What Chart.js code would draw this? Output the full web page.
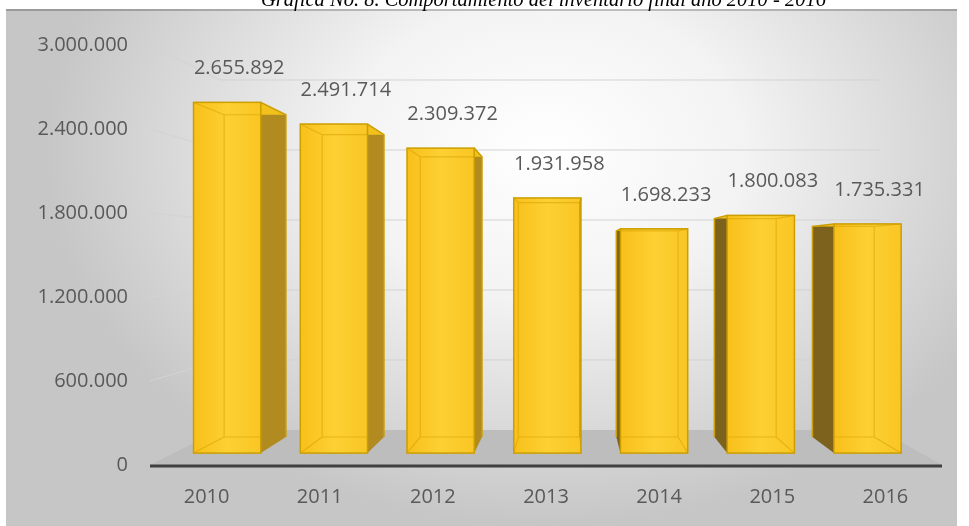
<!DOCTYPE html>
<html>
<head>
<meta charset="utf-8">
<script src="https://cdn.jsdelivr.net/npm/chart.js@4.4.1/dist/chart.umd.min.js"></script>
<style>
    html, body { margin: 0; padding: 0; background: #fff; }
    #wrap { position: relative; width: 969px; height: 526px; overflow: hidden; }
    #chart { position: absolute; left: 0; top: 0; }
    #title {
        position: absolute; left: 59px; top: -12px; width: 969px;
        text-align: center; font: italic 20.5px "Liberation Serif"; line-height: 22px; color: #000;
    }
</style>
</head>
<body>
<div id="wrap">
    <canvas id="chart" width="969" height="526"></canvas>
    <div id="title">Gráfica No. 8. Comportamiento del inventario final año 2010 - 2016</div>
</div>
<script>
const years = ['2010', '2011', '2012', '2013', '2014', '2015', '2016'];
const inventario = [2655892, 2491714, 2309372, 1931958, 1698233, 1800083, 1735331];
const yMin = 0;
const yMax = 3000000;
const yStep = 600000;

const TEXT = '#595959';
const FONT = { family: 'Open Sans', size: 20 };
const DEPTH = 0.1667;          // shrink factor front -> back wall
const FRONT_T = 0.34, BACK_T = 0.8;  // depth of the bars

function fmt(v) {
    return String(v).replace(/\B(?=(\d{3})+(?!\d))/g, '.');
}

// simple perspective: t = 0 front plane, t = 1 back wall
function project(area, x, y, t) {
    const vx = area.left + 0.53 * (area.right - area.left);
    const vy = area.top + 0.5 * (area.bottom - area.top);
    const s = 1 - DEPTH * t;
    return [vx + (x - vx) * s, vy + (y - vy) * s];
}

function poly(ctx, pts, fill) {
    ctx.beginPath();
    ctx.moveTo(pts[0][0], pts[0][1]);
    for (let i = 1; i < pts.length; i++) ctx.lineTo(pts[i][0], pts[i][1]);
    ctx.closePath();
    ctx.fillStyle = fill;
    ctx.fill();
}

const backdrop = {
    id: 'backdrop',
    beforeDraw(chart) {
        const ctx = chart.ctx;
        ctx.save();
        ctx.translate(545, 150);
        ctx.scale(1, 0.75);
        const g = ctx.createRadialGradient(0, 0, 0, 0, 0, 500);
        g.addColorStop(0, '#ffffff');
        g.addColorStop(0.4, '#f3f3f3');
        g.addColorStop(1, '#c6c6c6');
        ctx.fillStyle = g;
        ctx.fillRect(-539, -188, 951, 700);
        ctx.restore();
        ctx.save();
        ctx.fillStyle = 'rgba(0,0,0,0.22)';
        ctx.fillRect(6, 9, 951, 2);
        ctx.restore();
    }
};

const bars3d = {
    id: 'bars3d',
    beforeDatasetsDraw(chart) {
        const ctx = chart.ctx;
        const area = chart.chartArea;
        const yScale = chart.scales.y;
        const P = (x, y, t) => project(area, x, y, t);
        ctx.save();

        // walls grid
        ctx.strokeStyle = '#d3d3d3';
        ctx.lineWidth = 1;
        yScale.ticks.forEach(tk => {
            if (tk.value === 0) return;
            const yF = yScale.getPixelForValue(tk.value);
            const a = P(area.left, yF, 1), b = P(area.right, yF, 1);
            ctx.beginPath();
            ctx.moveTo(area.left, yF);
            ctx.lineTo(a[0], a[1]);
            ctx.lineTo(b[0], b[1]);
            ctx.stroke();
        });

        // floor
        poly(ctx, [[area.left, area.bottom], [area.right, area.bottom],
            P(area.right, area.bottom, 1), P(area.left, area.bottom, 1)], '#bdbdbd');
        ctx.strokeStyle = '#404040';
        ctx.lineWidth = 3;
        ctx.beginPath();
        ctx.moveTo(area.left, area.bottom + 1);
        ctx.lineTo(area.right, area.bottom + 1);
        ctx.stroke();

        // bars
        const vx = area.left + 0.53 * (area.right - area.left);
        const meta = chart.getDatasetMeta(0);
        meta.data.forEach((el, i) => {
            const p = el.getProps(['x', 'y', 'base', 'width'], true);
            const xl = p.x - p.width / 2, xr = p.x + p.width / 2;
            const fTL = P(xl, p.y, FRONT_T), fTR = P(xr, p.y, FRONT_T);
            const fBL = P(xl, p.base, FRONT_T), fBR = P(xr, p.base, FRONT_T);
            const bTL = P(xl, p.y, BACK_T), bTR = P(xr, p.y, BACK_T);
            const bBL = P(xl, p.base, BACK_T), bBR = P(xr, p.base, BACK_T);

            // back face
            poly(ctx, [bTL, bTR, bBR, bBL], '#e9b515');
            // side face
            if (p.x < vx) {
                poly(ctx, [fTR, bTR, bBR, fBR], '#b18b20');
            } else {
                poly(ctx, [fTL, bTL, bBL, fBL], '#7d621d');
            }
            // top face
            poly(ctx, [fTL, fTR, bTR, bTL], '#f3c11c');

            // front face
            const g = ctx.createLinearGradient(fTL[0], 0, fTR[0], 0);
            g.addColorStop(0, '#f8c01a');
            g.addColorStop(0.5, '#fdd033');
            g.addColorStop(1, '#f9c624');
            ctx.fillStyle = g;
            ctx.fillRect(fTL[0], fTL[1], fTR[0] - fTL[0], fBL[1] - fTL[1]);

            // back edges seen through
            ctx.save();
            ctx.beginPath();
            ctx.rect(fTL[0], fTL[1], fTR[0] - fTL[0], fBL[1] - fTL[1]);
            ctx.clip();
            ctx.strokeStyle = 'rgba(215,160,0,0.55)';
            ctx.lineWidth = 1.2;
            ctx.beginPath();
            ctx.moveTo(fTL[0], fTL[1]); ctx.lineTo(bTL[0], bTL[1]);
            ctx.moveTo(fTR[0], fTR[1]); ctx.lineTo(bTR[0], bTR[1]);
            ctx.moveTo(fBL[0], fBL[1]); ctx.lineTo(bBL[0], bBL[1]);
            ctx.moveTo(fBR[0], fBR[1]); ctx.lineTo(bBR[0], bBR[1]);
            ctx.rect(bTL[0], bTL[1], bTR[0] - bTL[0], bBL[1] - bTL[1]);
            ctx.stroke();
            ctx.restore();

            ctx.strokeStyle = '#cc9e00';
            ctx.lineWidth = 1.5;
            ctx.strokeRect(fTL[0], fTL[1], fTR[0] - fTL[0], fBL[1] - fTL[1]);
            ctx.beginPath();
            if (p.x < vx) {
                ctx.moveTo(fTR[0], fTR[1]); ctx.lineTo(bTR[0], bTR[1]); ctx.lineTo(bBR[0], bBR[1]);
            } else {
                ctx.moveTo(fTL[0], fTL[1]); ctx.lineTo(bTL[0], bTL[1]); ctx.lineTo(bBL[0], bBL[1]);
            }
            ctx.stroke();

            // value label
            const fx = (fTL[0] + fTR[0]) / 2;
            ctx.fillStyle = TEXT;
            ctx.font = FONT.size + 'px "' + FONT.family + '"';
            ctx.textAlign = 'center';
            ctx.textBaseline = 'middle';
            ctx.fillText(fmt(inventario[i]), fx + 12, fTL[1] - 34);
        });
        ctx.restore();
        return false;
    }
};

new Chart(document.getElementById('chart'), {
    type: 'bar',
    data: {
        labels: years,
        datasets: [{
            label: 'Inventario final',
            data: inventario,
            backgroundColor: '#fac51e',
            borderColor: '#cc9e00',
            barPercentage: 0.63,
            categoryPercentage: 1
        }]
    },
    options: {
        responsive: false,
        animation: false,
        layout: { padding: { left: 20, right: 27, top: 45, bottom: 0 } },
        plugins: { legend: { display: false }, tooltip: { enabled: false } },
        scales: {
            x: {
                grid: { display: false },
                border: { display: false },
                ticks: { color: TEXT, font: FONT, padding: 12 },
                afterFit(s) { s.height = 61; }
            },
            y: {
                min: yMin,
                max: yMax,
                grid: { display: false },
                border: { display: false },
                ticks: { stepSize: yStep, color: TEXT, font: FONT, padding: 14, callback: v => fmt(v) },
                afterFit(s) { s.width = 130; }
            }
        }
    },
    plugins: [backdrop, bars3d]
});
</script>
</body>
</html>
